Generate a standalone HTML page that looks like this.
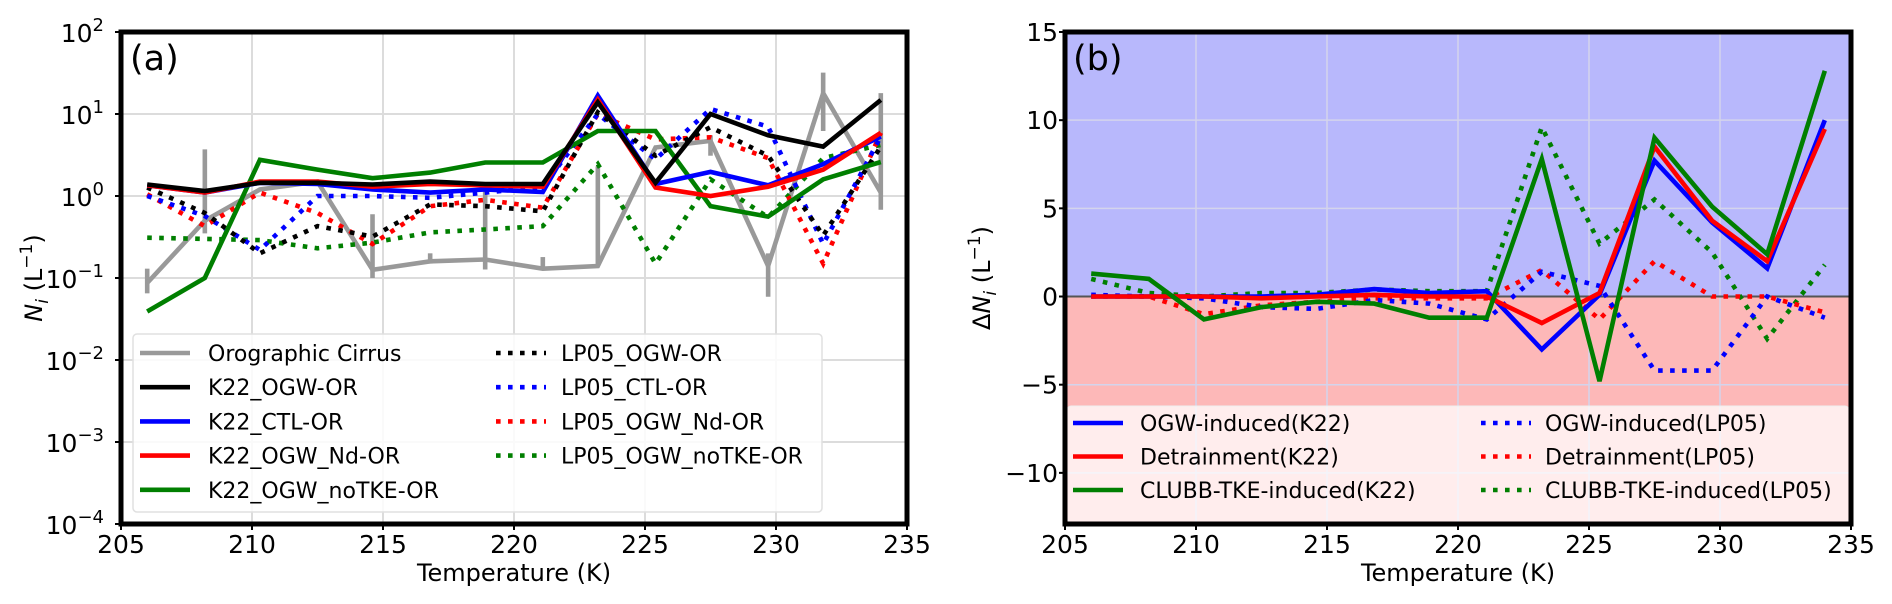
<!DOCTYPE html>
<html><head><meta charset="utf-8">
<style>
html,body{margin:0;padding:0;background:#fff;}
svg{display:block;font-family:"DejaVu Sans","Liberation Sans",sans-serif;}
</style></head>
<body>
<svg id="fig" width="1892" height="604" viewBox="0 0 1892 604" xmlns="http://www.w3.org/2000/svg"></svg>
<script>
// ---- shared data ----
const temps = [206,208.2,210.3,212.5,214.6,216.8,218.9,221.1,223.2,225.4,227.5,229.7,231.8,234];
const xTicks = [205,210,215,220,225,230,235];
// panel a (log scale)
const orographic = [0.087,0.5,1.2,1.5,0.126,0.16,0.168,0.13,0.14,3.9,4.7,0.14,18,1.1];
const orographicLow = [0.065,0.35,1.2,1.5,0.1,0.15,0.127,0.13,0.14,3.9,3.1,0.059,6.2,0.68];
const orographicHigh = [0.13,3.7,1.2,1.5,0.6,0.2,1.15,0.18,2.3,3.9,5.5,0.2,32,18];
const k22Ogw = [1.38,1.15,1.45,1.45,1.38,1.5,1.4,1.4,13.9,1.45,10,5.5,4.0,14.8];
const k22Ctl = [1.35,1.1,1.45,1.4,1.2,1.1,1.2,1.12,16.7,1.4,1.97,1.35,2.45,5.3];
const k22Nd = [1.35,1.1,1.5,1.5,1.3,1.4,1.35,1.3,15,1.27,1.0,1.3,2.1,5.9];
const k22NoTke = [0.039,0.1,2.76,2.1,1.65,1.93,2.56,2.56,6.2,6.2,0.75,0.56,1.6,2.6];
const lp05Ogw = [1.27,0.62,0.2,0.43,0.32,0.79,0.75,0.65,10.5,3.1,6.9,3.1,0.33,4.0];
const lp05Ctl = [1.0,0.57,0.22,1.0,1.0,0.95,1.1,1.3,10,2.8,11.5,7,0.26,5.3];
const lp05Nd = [1.05,0.43,1.1,0.62,0.26,0.75,0.9,0.72,10,4.9,5.2,2.9,0.15,5.9];
const lp05NoTke = [0.31,0.3,0.29,0.23,0.27,0.36,0.39,0.43,2.45,0.15,1.6,0.55,2.9,4.2];
const yTicksA = [2,1,0,-1,-2,-3,-4];
// panel b (linear)
const ogwK22 = [0,0,0,0,0.1,0.42,0.2,0.3,-3.0,0.1,7.7,4.2,1.6,10.0];
const detK22 = [0,0,0,-0.1,0,0.1,0,0,-1.5,0.2,8.5,4.3,2.0,9.5];
const clubbK22 = [1.3,1.0,-1.3,-0.6,-0.3,-0.4,-1.2,-1.2,7.8,-4.8,9.0,5.1,2.4,12.8];
const ogwLP05 = [0.1,0,-0.1,-0.6,-0.7,-0.2,-0.4,-1.3,1.4,0.6,-4.2,-4.2,0,-1.2];
const detLP05 = [0,0,-1.0,-0.5,-0.3,-0.1,-0.1,-0.1,1.5,-1.3,2.0,0,0,-0.9];
const clubbLP05 = [1.0,0.2,0,0.2,0.2,0.4,0.3,0.3,9.6,3.0,5.5,2.5,-2.4,1.8];
const yTicksB = [15,10,5,0,-5,-10];

const NS = "http://www.w3.org/2000/svg";
const svg = document.getElementById('fig');
function el(tag, attrs, parent){const e=document.createElementNS(NS,tag);for(const k in attrs)e.setAttribute(k,attrs[k]);(parent||svg).appendChild(e);return e;}

const topY=32,bot=524,W=786;
const axA={x0:121}, axB={x0:1065};
function xs(ax,t){return ax.x0+(t-205)/30*W;}
function yA(v){return topY+(2-Math.log10(v))*82;}
const bMin=-12.9,bMax=15;
function yB(v){return topY+(bMax-v)/(bMax-bMin)*(bot-topY);}
const DOT="4.6 7.4";
const LW=4.6;

// ---------- Panel A ----------
const gA=el('g',{});


xTicks.forEach(t=>{const l=el('line',{x1:xs(axA,t),x2:xs(axA,t),y1:topY,y2:bot,stroke:'#dcdcdc','stroke-width':2},gA);
});
yTicksA.forEach(p=>{const l=el('line',{x1:axA.x0,x2:axA.x0+W,y1:topY+(2-p)*82,y2:topY+(2-p)*82,stroke:'#dcdcdc','stroke-width':2},gA);
});
function lineA(vals,color,dash,name){
  const pts=temps.map((t,i)=>xs(axA,t).toFixed(1)+','+yA(vals[i]).toFixed(1)).join(' ');
  const p=el('polyline',{points:pts,fill:'none',stroke:color,'stroke-width':LW,'stroke-linejoin':'miter','stroke-dasharray':dash||'none'},gA);
  
}
temps.forEach((t,i)=>{const l=el('line',{x1:xs(axA,t),x2:xs(axA,t),y1:yA(orographicLow[i]),y2:yA(orographicHigh[i]),stroke:'#999','stroke-width':LW},gA);
});
lineA(orographic,'#999',null,'orographic-cirrus-line');
lineA(lp05NoTke,'#007f00',DOT,'lp05-ogw-notke-line');
lineA(lp05Nd,'#ff0000',DOT,'lp05-ogw-nd-line');
lineA(lp05Ctl,'#0000ff',DOT,'lp05-ctl-line');
lineA(lp05Ogw,'#000',DOT,'lp05-ogw-line');
lineA(k22NoTke,'#007f00',null,'k22-ogw-notke-line');
lineA(k22Ctl,'#0000ff',null,'k22-ctl-line');
lineA(k22Nd,'#ff0000',null,'k22-ogw-nd-line');
lineA(k22Ogw,'#000',null,'k22-ogw-line');

const lgA=el('g',{},gA);

el('rect',{x:133,y:334,width:689,height:178,rx:4,fill:'rgba(255,255,255,0.85)',stroke:'#e0e0e0','stroke-width':1.5},lgA);
const legA=[['Orographic Cirrus','#999',null,0,0],['K22_OGW-OR','#000',null,0,1],['K22_CTL-OR','#0000ff',null,0,2],['K22_OGW_Nd-OR','#ff0000',null,0,3],['K22_OGW_noTKE-OR','#007f00',null,0,4],
['LP05_OGW-OR','#000',DOT,1,0],['LP05_CTL-OR','#0000ff',DOT,1,1],['LP05_OGW_Nd-OR','#ff0000',DOT,1,2],['LP05_OGW_noTKE-OR','#007f00',DOT,1,3]];
legA.forEach(d=>{const lx=d[3]?496:140, tx=d[3]?561:208, y=353+d[4]*34.2;
 const g=el('g',{},lgA);
 el('line',{x1:lx,x2:lx+50,y1:y,y2:y,stroke:d[1],'stroke-width':LW,'stroke-dasharray':d[2]||'none'},g);
 const t=el('text',{x:tx,y:y+8,'font-size':22,fill:'#000'},g);t.textContent=d[0];});

yTicksA.forEach(p=>{const y=topY+(2-p)*82;
 el('line',{x1:axA.x0-6,x2:axA.x0,y1:y,y2:y,stroke:'#000','stroke-width':2},gA);
 const t=el('text',{x:104,y:y+10,'font-size':25,'text-anchor':'end'},gA);
 
 t.textContent='10';const s=el('tspan',{dy:-11,'font-size':18},t);s.textContent=(p<0?'\u2212'+(-p):String(p));});
xTicks.forEach(v=>{const x=xs(axA,v);el('line',{x1:x,x2:x,y1:bot,y2:bot+6,stroke:'#000','stroke-width':2},gA);
 const t=el('text',{x:x,y:553,'font-size':25,'text-anchor':'middle'},gA);t.textContent=v;
 });
el('rect',{x:axA.x0,y:topY,width:W,height:bot-topY,fill:'none',stroke:'#000','stroke-width':5},gA);
let tx1=el('text',{x:130,y:70,'font-size':35},gA);tx1.textContent='(a)';

tx1=el('text',{x:xs(axA,220),y:581,'font-size':24,'text-anchor':'middle'},gA);tx1.textContent='Temperature (K)';

tx1=el('text',{x:0,y:0,'font-size':24,'text-anchor':'middle',transform:'translate(42,278) rotate(-90)'},gA);
tx1.innerHTML='<tspan font-style="italic">N</tspan><tspan font-style="italic" font-size="17" dy="6">i</tspan><tspan dy="-6"> (L</tspan><tspan font-size="17" dy="-10">\u22121</tspan><tspan dy="10">)</tspan>';


// ---------- Panel B ----------
const gB=el('g',{});

const posR=el('rect',{x:axB.x0,y:topY,width:W,height:yB(0)-topY,fill:'#b8b8fc'},gB);

const negR=el('rect',{x:axB.x0,y:yB(0),width:W,height:bot-yB(0),fill:'#fdb8b8'},gB);

xTicks.forEach(v=>{el('line',{x1:xs(axB,v),x2:xs(axB,v),y1:topY,y2:bot,stroke:'#d4d4ec','stroke-width':1.5},gB);});
yTicksB.forEach(v=>{el('line',{x1:axB.x0,x2:axB.x0+W,y1:yB(v),y2:yB(v),stroke:'#d4d4ec','stroke-width':1.5},gB);});
const zl=el('line',{x1:axB.x0,x2:axB.x0+W,y1:yB(0),y2:yB(0),stroke:'#555','stroke-width':2},gB);

function lineB(vals,color,dash,name){
  const pts=temps.map((tt,i)=>xs(axB,tt).toFixed(1)+','+yB(vals[i]).toFixed(1)).join(' ');
  const p=el('polyline',{points:pts,fill:'none',stroke:color,'stroke-width':LW,'stroke-dasharray':dash||'none'},gB);
  
}
lineB(clubbLP05,'#007f00',DOT,'clubb-tke-lp05-line');
lineB(detLP05,'#ff0000',DOT,'detrainment-lp05-line');
lineB(ogwLP05,'#0000ff',DOT,'ogw-induced-lp05-line');
lineB(ogwK22,'#0000ff',null,'ogw-induced-k22-line');
lineB(detK22,'#ff0000',null,'detrainment-k22-line');
lineB(clubbK22,'#007f00',null,'clubb-tke-k22-line');
const lgB=el('g',{},gB);

el('rect',{x:1067,y:406,width:782,height:116,rx:4,fill:'rgba(255,255,255,0.75)',stroke:'#eee','stroke-width':1},lgB);
const legB=[['OGW-induced(K22)','#0000ff',null,0,0],['Detrainment(K22)','#ff0000',null,0,1],['CLUBB-TKE-induced(K22)','#007f00',null,0,2],
['OGW-induced(LP05)','#0000ff',DOT,1,0],['Detrainment(LP05)','#ff0000',DOT,1,1],['CLUBB-TKE-induced(LP05)','#007f00',DOT,1,2]];
legB.forEach(d=>{const lx=d[3]?1481:1073, tx=d[3]?1545:1140, y=423+d[4]*33.5;
 const g=el('g',{},lgB);
 el('line',{x1:lx,x2:lx+50,y1:y,y2:y,stroke:d[1],'stroke-width':LW,'stroke-dasharray':d[2]||'none'},g);
 const tt=el('text',{x:tx,y:y+8,'font-size':22},g);tt.textContent=d[0];});
yTicksB.forEach(v=>{const y=yB(v);el('line',{x1:axB.x0-6,x2:axB.x0,y1:y,y2:y,stroke:'#000','stroke-width':2},gB);
 const tt=el('text',{x:1058,y:y+9,'font-size':25,'text-anchor':'end'},gB);tt.textContent=(v<0?'\u2212'+(-v):v);
 });
xTicks.forEach(v=>{const x=xs(axB,v);el('line',{x1:x,x2:x,y1:bot,y2:bot+6,stroke:'#000','stroke-width':2},gB);
 const tt=el('text',{x:x,y:553,'font-size':25,'text-anchor':'middle'},gB);tt.textContent=v;
 });
el('rect',{x:axB.x0,y:topY,width:W,height:bot-topY,fill:'none',stroke:'#000','stroke-width':5},gB);
let tx2=el('text',{x:1073,y:70,'font-size':35},gB);tx2.textContent='(b)';

tx2=el('text',{x:xs(axB,220),y:581,'font-size':24,'text-anchor':'middle'},gB);tx2.textContent='Temperature (K)';

tx2=el('text',{x:0,y:0,'font-size':24,'text-anchor':'middle',transform:'translate(990,278) rotate(-90)'},gB);
tx2.innerHTML='\u0394<tspan font-style="italic">N</tspan><tspan font-style="italic" font-size="17" dy="6">i</tspan><tspan dy="-6"> (L</tspan><tspan font-size="17" dy="-10">\u22121</tspan><tspan dy="10">)</tspan>';

</script>
</body></html>
